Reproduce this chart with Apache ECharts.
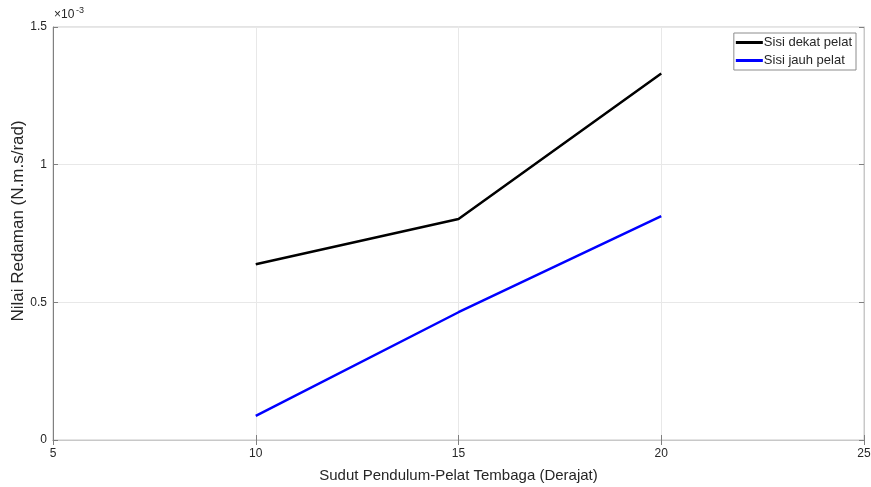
<!DOCTYPE html>
<html>
<head>
<meta charset="utf-8">
<script src="https://cdn.jsdelivr.net/npm/echarts@6/dist/echarts.min.js"></script>
<style>
html,body{margin:0;padding:0;background:#fff;}
#chart{width:871px;height:487px;}
</style>
</head>
<body>
<div id="chart"></div>
<script>
// sudut (derajat)
var sudut = [10, 15, 20];
// nilai redaman x 1e-3
var dekat = [0.638, 0.803, 1.331];
var jauh = [0.088, 0.464, 0.813];
var xTicks = [5, 10, 15, 20, 25];
var yTicks = [0, 0.5, 1, 1.5];

var font = 'Liberation Sans';
var chart = echarts.init(document.getElementById('chart'));

function pairs(ys) {
    return sudut.map(function (x, i) { return [x, ys[i]]; });
}

var option = {
    animation: false,
    backgroundColor: '#fff',
    textStyle: { fontFamily: font },
    grid: {
        left: 53, right: 7, top: 27, bottom: 47,
        outerBoundsMode: 'none', containLabel: false,
        show: true, borderColor: '#c8c8c8', borderWidth: 1
    },
    legend: {
        orient: 'vertical',
        right: 15,
        top: 33,
        icon: 'rect',
        itemWidth: 27,
        itemHeight: 3,
        itemGap: 5,
        padding: [3, 4, 3, 2],
        borderColor: '#8c8c8c',
        borderWidth: 1,
        borderRadius: 0,
        backgroundColor: '#fff',
        textStyle: { fontFamily: font, fontSize: 13, color: '#262626', padding: [0, 0, 0, -4] },
        data: ['Sisi dekat pelat', 'Sisi jauh pelat']
    },
    xAxis: [{
        type: 'value', min: xTicks[0], max: xTicks[xTicks.length - 1], interval: 5,
        name: 'Sudut Pendulum-Pelat Tembaga (Derajat)',
        nameLocation: 'middle', nameGap: 28,
        nameTextStyle: { fontFamily: font, fontSize: 15, color: '#262626' },
        axisLine: { show: true, lineStyle: { color: '#808080', width: 1 } },
        axisTick: { show: true, inside: true, length: 5, lineStyle: { color: '#808080' } },
        axisLabel: { fontFamily: font, fontSize: 12, color: '#262626', margin: 8 },
        splitLine: { show: true, lineStyle: { color: '#e8e8e8', width: 1 } }
    }, {
        type: 'value', position: 'top', min: 5, max: 25, interval: 5,
        axisLine: { show: true, lineStyle: { color: '#c8c8c8' } },
        axisTick: { show: true, inside: true, length: 5, lineStyle: { color: '#808080' } },
        axisLabel: { show: false },
        splitLine: { show: false }
    }],
    yAxis: [{
        type: 'value', min: yTicks[0], max: yTicks[yTicks.length - 1], interval: 0.5,
        axisLine: { show: true, lineStyle: { color: '#808080', width: 1 } },
        axisTick: { show: true, inside: true, length: 5, lineStyle: { color: '#808080' } },
        axisLabel: { fontFamily: font, fontSize: 12, color: '#262626', margin: 6 },
        splitLine: { show: true, lineStyle: { color: '#e8e8e8', width: 1 } }
    }, {
        type: 'value', position: 'right', min: 0, max: 1.5, interval: 0.5,
        axisLine: { show: true, lineStyle: { color: '#c8c8c8' } },
        axisTick: { show: true, inside: true, length: 5, lineStyle: { color: '#808080' } },
        axisLabel: { show: false },
        splitLine: { show: false }
    }],
    graphic: [
        { type: 'text', left: 54, top: 9, style: { text: '×10', fontFamily: font, fontSize: 12, fill: '#262626' } },
        { type: 'text', left: 76, top: 6, style: { text: '-3', fontFamily: font, fontSize: 9, fill: '#262626' } },
        {
            type: 'text', x: 18, y: 221, rotation: Math.PI / 2,
            style: {
                text: 'Nilai Redaman (N.m.s/rad)', fontFamily: font, fontSize: 17, fill: '#262626',
                align: 'center', verticalAlign: 'middle'
            }
        }
    ],
    series: [{
        name: 'Sisi dekat pelat',
        type: 'line',
        data: pairs(dekat),
        symbol: 'none',
        color: '#000000',
        lineStyle: { color: '#000000', width: 2.5 }
    }, {
        name: 'Sisi jauh pelat',
        type: 'line',
        data: pairs(jauh),
        symbol: 'none',
        color: '#0000ff',
        lineStyle: { color: '#0000ff', width: 2.5 }
    }]
};

chart.setOption(option);
</script>
</body>
</html>
